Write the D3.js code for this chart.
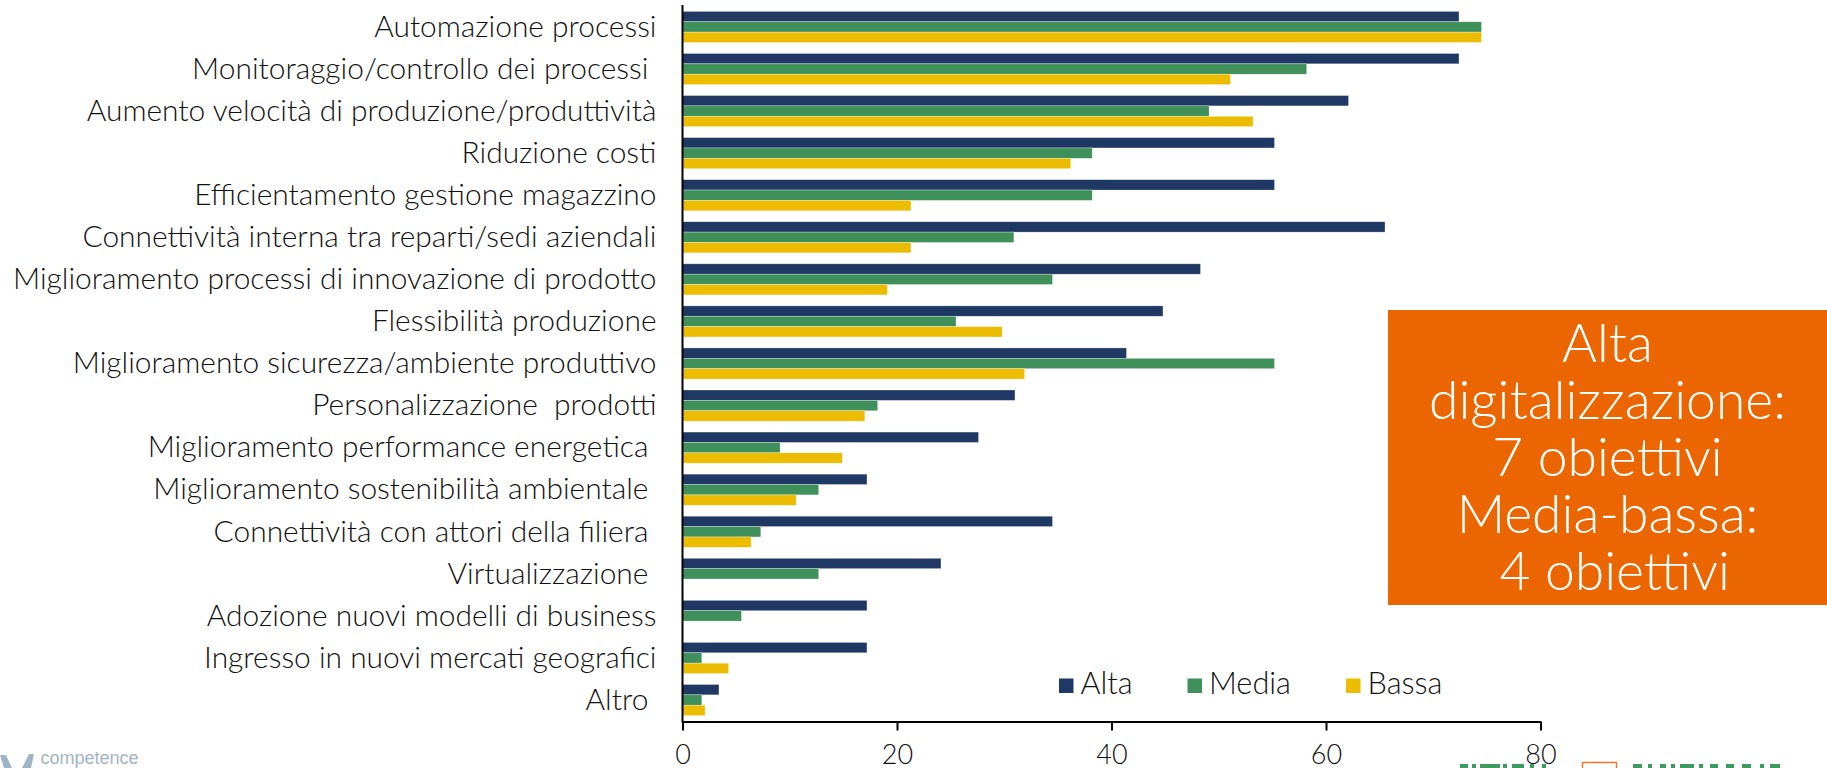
<!DOCTYPE html>
<html>
<head>
<meta charset="utf-8">
<script src="https://cdn.jsdelivr.net/npm/d3@7"></script>
<style>
  html, body { margin: 0; padding: 0; background: #fff; }
  svg { display: block; }
  text { font-family: Lato, "Open Sans", sans-serif; }
</style>
</head>
<body>
<svg id="chart" width="1827" height="768"></svg>
<script>
// Obiettivi della digitalizzazione per livello (percentuali)
const categories = [
  "Automazione processi",
  "Monitoraggio/controllo dei processi ",
  "Aumento velocità di produzione/produttività",
  "Riduzione costi",
  "Efficientamento gestione magazzino",
  "Connettività interna tra reparti/sedi aziendali",
  "Miglioramento processi di innovazione di prodotto",
  "Flessibilità produzione",
  "Miglioramento sicurezza/ambiente produttivo",
  "Personalizzazione  prodotti",
  "Miglioramento performance energetica ",
  "Miglioramento sostenibilità ambientale ",
  "Connettività con attori della filiera ",
  "Virtualizzazione ",
  "Adozione nuovi modelli di business",
  "Ingresso in nuovi mercati geografici",
  "Altro "
];
const seriesNames = ["Alta", "Media", "Bassa"];
const alta  = [72.4, 72.4, 62.1, 55.2, 55.2, 65.5, 48.3, 44.8, 41.4, 31.0, 27.6, 17.2, 34.5, 24.1, 17.2, 17.2, 3.4];
const media = [74.5, 58.2, 49.1, 38.2, 38.2, 30.9, 34.5, 25.5, 55.2, 18.2, 9.1, 12.7, 7.3, 12.7, 5.5, 1.8, 1.8];
const bassa = [74.5, 51.1, 53.2, 36.2, 21.3, 21.3, 19.1, 29.8, 31.9, 17.0, 14.9, 10.6, 6.4, 0, 0, 4.3, 2.1];
const xTicks = [0, 20, 40, 60, 80];
const boxLines = ["Alta", "digitalizzazione:", "7 obiettivi", "Media-bassa:", " 4 obiettivi"];

const colors = { Alta: "#203864", Media: "#40905B", Bassa: "#ECBC00" };
const seriesValues = { Alta: alta, Media: media, Bassa: bassa };

const svg = d3.select("#chart");

const x = d3.scaleLinear().domain([0, 80]).range([682.5, 1540.5]);
const y = d3.scaleBand().domain(categories).range([5.5, 721.5])
  .paddingInner(0.26).paddingOuter(0.14);
const ySub = d3.scaleBand().domain(seriesNames).range([0, y.bandwidth()]);

// Bars
const rows = categories.map((c, i) => ({ c, vals: seriesNames.map(s => ({ s, v: seriesValues[s][i] })) }));
const g = svg.append("g");
const grp = g.selectAll("g.row").data(rows).join("g")
  .attr("class", "row")
  .attr("transform", d => `translate(0,${y(d.c)})`);
grp.selectAll("rect").data(d => d.vals.filter(e => e.v > 0)).join("rect")
  .attr("x", x(0))
  .attr("y", d => ySub(d.s))
  .attr("width", d => x(d.v) - x(0))
  .attr("height", ySub.bandwidth())
  .attr("fill", d => colors[d.s])
  .attr("stroke", "#ffffff")
  .attr("stroke-opacity", 0.5)
  .attr("stroke-width", 0.6);

// Category labels (right aligned next to the axis)
const labels = svg.append("g").selectAll("text").data(categories).join("text")
  .attr("x", 656.5)
  .attr("y", d => y(d) + y.bandwidth() / 2 - 1)
  .attr("dy", "0.36em")
  .attr("text-anchor", "end")
  .attr("fill", "#111")
  .attr("font-weight", 300)
  .style("white-space", "pre")
  .attr("font-size", 25)
  .text(d => d);
// size so the longest label spans the available width
const longest = labels.filter(d => d.startsWith("Miglioramento processi")).node();
const lw = longest.getComputedTextLength();
labels.attr("font-size", 25 * 644 / lw);

// Axes
const xAxis = d3.axisBottom(x).tickValues(xTicks).tickSize(9).tickPadding(14).tickSizeOuter(0);
const ax = svg.append("g").attr("transform", "translate(0,721.5)").call(xAxis);
ax.select(".domain").attr("stroke", "#000").attr("stroke-width", 2);
ax.selectAll(".tick line").attr("stroke", "#000").attr("stroke-width", 2);
ax.selectAll(".tick text").attr("font-size", 27).attr("fill", "#111")
  .attr("font-weight", 300)
  .style("font-family", "Lato, sans-serif");

svg.append("line")
  .attr("x1", x(0)).attr("x2", x(0))
  .attr("y1", 5).attr("y2", 722.5)
  .attr("stroke", "#000").attr("stroke-width", 2);

// Legend
const legendX = [1059, 1187.5, 1346];
const leg = svg.append("g").selectAll("g").data(seriesNames).join("g")
  .attr("transform", (d, i) => `translate(${legendX[i]},678.5)`);
leg.append("rect").attr("width", 14.5).attr("height", 14.5).attr("fill", d => colors[d]);
const legText = leg.append("text").attr("x", 21.5).attr("y", 15).attr("font-size", 25)
  .attr("font-weight", 300)
  .attr("fill", "#111").text(d => d);
const mw = legText.filter(d => d === "Media").node().getComputedTextLength();
legText.attr("font-size", 25 * 82 / mw);

// Highlight box
const box = svg.append("g");
box.append("rect").attr("x", 1388).attr("y", 310).attr("width", 439).attr("height", 295)
  .attr("fill", "#EB6500");
const boxText = box.selectAll("text").data(boxLines).join("text")
  .attr("x", 1607.5)
  .attr("y", (d, i) => 361.5 + i * 57.2)
  .attr("text-anchor", "middle")
  .attr("fill", "#ffffff")
  .attr("font-weight", 300)
  .style("white-space", "pre")
  .attr("font-size", 46)
  .text(d => d);
const dw = boxText.filter(d => d === "digitalizzazione:").node().getComputedTextLength();
boxText.attr("font-size", 46 * 357 / dw);

// Footer logos (cut by the lower edge)
const foot = svg.append("g");
foot.append("path")
  .attr("d", "M0,755 L6,755 L12,768 L4,768 Z M22,768 L29,754 L34,754 L31,768 Z")
  .attr("fill", "#9FB4C4");
foot.append("text").attr("x", 40.5).attr("y", 764).attr("font-size", 18)
  .style("font-family", "'Liberation Sans', Arial, sans-serif")
  .attr("fill", "#9FB4C4").text("competence");

foot.append("rect").attr("x", 1582.5).attr("y", 762.5).attr("width", 34).attr("height", 12)
  .attr("fill", "none").attr("stroke", "#E8782A").attr("stroke-width", 1.5);
const greenTops = [[1460, 8], [1472, 4], [1480, 20], [1503, 4], [1512, 12], [1530, 4], [1542, 4],
                   [1633, 9], [1648, 4], [1660, 6], [1671, 4], [1680, 14], [1699, 4], [1710, 8],
                   [1726, 8], [1742, 9], [1760, 4], [1770, 10]];
foot.selectAll("rect.gt").data(greenTops).join("rect").attr("class", "gt")
  .attr("x", d => d[0]).attr("y", 764).attr("width", d => d[1]).attr("height", 4)
  .attr("fill", "#3E9A5E");
</script>
</body>
</html>
